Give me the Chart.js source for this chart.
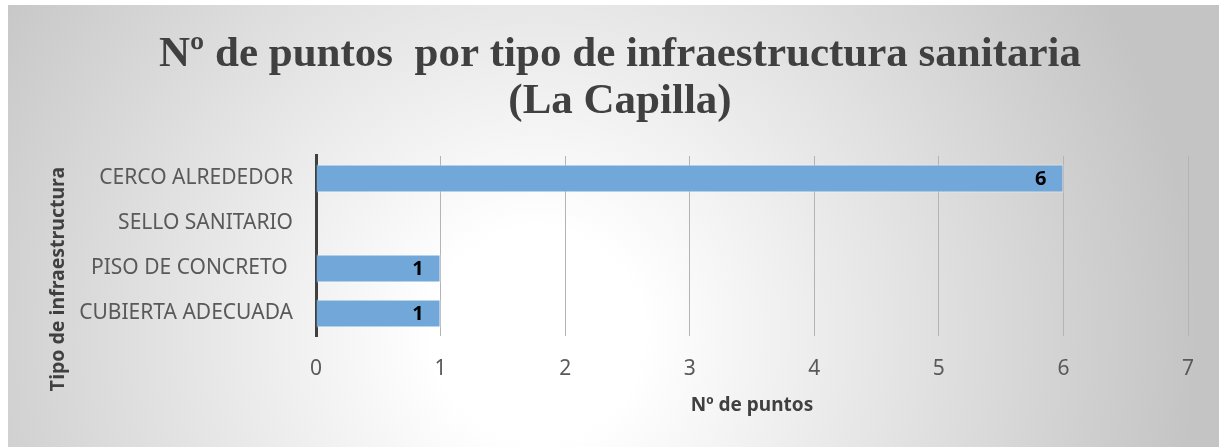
<!DOCTYPE html>
<html>
<head>
<meta charset="utf-8">
<script src="https://cdn.jsdelivr.net/npm/chart.js@4.4.0/dist/chart.umd.min.js"></script>
<style>
  html, body { margin: 0; padding: 0; background: #fff; }
  #wrap {
    position: absolute; left: 8px; top: 5px; width: 1211px; height: 442px;
    background: radial-gradient(circle 660px at 530px 330px, #ffffff 0%, #ffffff 16%, #c4c4c4 100%);
  }
</style>
</head>
<body>
<div id="wrap"><canvas id="chart" width="1211" height="442"></canvas></div>
<script>
  // Nº de puntos por tipo de infraestructura sanitaria (La Capilla)
  var categorias = ['CERCO ALREDEDOR', 'SELLO SANITARIO', 'PISO DE CONCRETO ', 'CUBIERTA ADECUADA'];
  var puntos = [6, 0, 1, 1];
  var ticksX = [0, 1, 2, 3, 4, 5, 6, 7];
  var titulo = ['Nº de puntos  por tipo de infraestructura sanitaria', '(La Capilla)'];
  var tituloX = 'Nº de puntos';
  var tituloY = 'Tipo de infraestructura';

  var SANS = '"Noto Sans", sans-serif';

  // etiquetas de valor dentro de las barras + título del eje Y (desplazado como en el original)
  var etiquetas = {
    id: 'etiquetas',
    afterDatasetsDraw: function (chart) {
      var ctx = chart.ctx;
      var meta = chart.getDatasetMeta(0);
      ctx.save();
      ctx.font = 'bold 20px ' + SANS;
      ctx.fillStyle = '#000';
      ctx.textAlign = 'right';
      ctx.textBaseline = 'middle';
      meta.data.forEach(function (bar, i) {
        if (!puntos[i]) return;
        ctx.fillText(String(puntos[i]), bar.x - 17, bar.y + 1);
      });
      ctx.restore();
    },
    afterDraw: function (chart) {
      var ctx = chart.ctx;
      ctx.save();
      ctx.translate(50, 274);
      ctx.rotate(-Math.PI / 2);
      ctx.font = 'bold 19.5px ' + SANS;
      ctx.fillStyle = '#404040';
      ctx.textAlign = 'center';
      ctx.textBaseline = 'middle';
      ctx.fillText(tituloY, 0, 0);
      ctx.restore();
    }
  };

  new Chart(document.getElementById('chart'), {
    type: 'bar',
    data: {
      labels: categorias,
      datasets: [{
        data: puntos,
        backgroundColor: '#72a7d9',
        borderColor: 'rgba(255,255,255,0.55)',
        borderWidth: 1,
        barPercentage: 0.62,
        categoryPercentage: 1
      }]
    },
    options: {
      indexAxis: 'y',
      responsive: false,
      animation: false,
      layout: { padding: { left: 44, right: 31, top: 0, bottom: 0 } },
      plugins: {
        legend: { display: false },
        tooltip: { enabled: false },
        title: {
          display: true,
          text: titulo,
          color: '#404040',
          font: { family: '"Liberation Serif", "Times New Roman", serif', size: 43, weight: 'bold', lineHeight: 1.093 },
          padding: { top: 26.5, bottom: 30.5 }
        }
      },
      scales: {
        x: {
          min: 0,
          max: 7,
          afterBuildTicks: function (scale) {
            scale.ticks = ticksX.map(function (v) { return { value: v }; });
          },
          afterFit: function (scale) { scale.height = 111; },
          grid: { color: '#b4b4b4', lineWidth: 1, drawTicks: false },
          border: { display: false },
          ticks: { color: '#595959', font: { family: SANS, size: 21 }, padding: 20 },
          title: {
            display: true,
            text: tituloX,
            color: '#404040',
            font: { family: SANS, size: 19, weight: 'bold' },
            padding: { top: 0, bottom: 30 }
          }
        },
        y: {
          afterFit: function (scale) { scale.width = 264; },
          grid: { display: false, drawTicks: false },
          border: { display: true, color: '#404040', width: 3 },
          ticks: { color: '#595959', font: { family: SANS, size: 21 }, padding: 23 }
        }
      }
    },
    plugins: [etiquetas]
  });
</script>
</body>
</html>
